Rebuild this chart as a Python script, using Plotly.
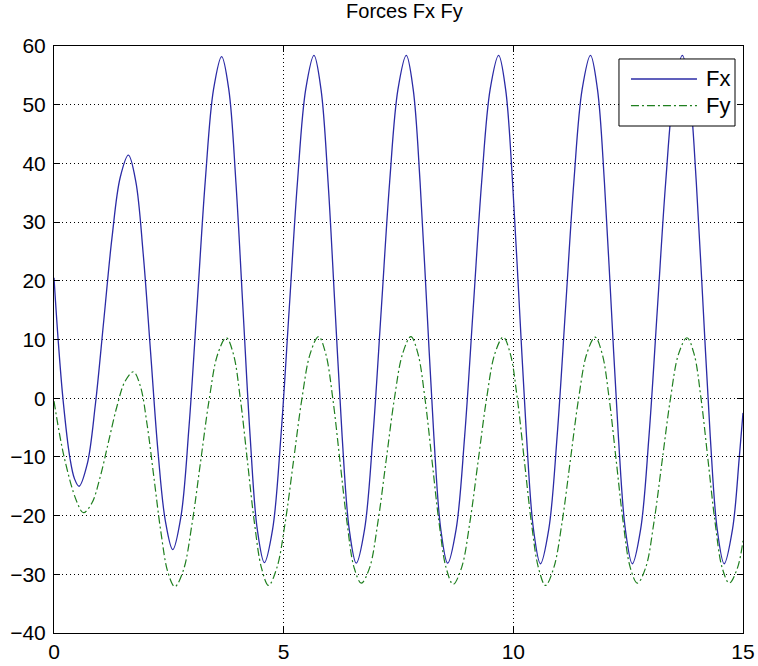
import plotly.graph_objects as go

# ---- data (time, force) ----
fx_t = [0, 0.09, 0.2, 0.345, 0.445, 0.545,
        0.724, 0.903, 1.083, 1.262, 1.441, 1.62,
        1.781, 1.942, 2.103, 2.263, 2.424, 2.585,
        2.763, 2.94, 3.118, 3.295, 3.473, 3.65,
        3.805, 3.96, 4.115, 4.27, 4.425, 4.58,
        4.76, 4.94, 5.12, 5.30, 5.48, 5.66,
        5.813, 5.967, 6.12, 6.273, 6.427, 6.58,
        6.762, 6.943, 7.125, 7.307, 7.488, 7.67,
        7.82, 7.97, 8.12, 8.27, 8.42, 8.57,
        8.755, 8.94, 9.125, 9.31, 9.495, 9.68,
        9.832, 9.983, 10.135, 10.287, 10.438, 10.59,
        10.772, 10.953, 11.135, 11.317, 11.498, 11.68,
        11.832, 11.983, 12.135, 12.287, 12.438, 12.59,
        12.772, 12.953, 13.135, 13.317, 13.498, 13.68,
        13.832, 13.983, 14.135, 14.287, 14.438, 14.59,
        14.772, 14.92, 15.0]
fx_val = [20.5, 10, -0.5, -10.1, -13.7, -15.0,
          -11.2, -0.9, 13.2, 27.3, 37.6, 41.4,
          36.9, 24.6, 7.8, -9.0, -20.9, -25.8,
          -20.2, -4.8, 16.2, 37.2, 52.6, 58.2,
          52.6, 36.8, 15.1, -6.5, -22.3, -28.0,
          -22.3, -6.5, 15.1, 36.8, 52.6, 58.4,
          52.6, 36.8, 15.1, -6.5, -22.3, -28.1,
          -22.3, -6.5, 15.1, 36.8, 52.6, 58.4,
          52.6, 36.8, 15.1, -6.5, -22.3, -28.1,
          -22.3, -6.5, 15.1, 36.8, 52.6, 58.4,
          52.6, 36.8, 15.1, -6.5, -22.3, -28.2,
          -22.3, -6.5, 15.1, 36.8, 52.6, 58.4,
          52.6, 36.8, 15.1, -6.5, -22.3, -28.2,
          -22.3, -6.5, 15.1, 36.8, 52.6, 58.4,
          52.6, 36.8, 15.1, -6.5, -22.3, -28.2,
          -22.3, -10.0, -2.5]

fy_t = [0, 0.22, 0.49, 0.64,
        0.822, 1.003, 1.185, 1.367, 1.548, 1.73,
        1.88, 2.03, 2.18, 2.33, 2.48, 2.63,
        2.817, 3.003, 3.19, 3.377, 3.563, 3.75,
        3.903, 4.057, 4.21, 4.363, 4.517, 4.67,
        4.852, 5.033, 5.215, 5.397, 5.578, 5.76,
        5.915, 6.07, 6.225, 6.38, 6.535, 6.69,
        6.87, 7.05, 7.23, 7.41, 7.59, 7.77,
        7.923, 8.077, 8.23, 8.383, 8.537, 8.69,
        8.872, 9.053, 9.235, 9.417, 9.598, 9.78,
        9.933, 10.087, 10.24, 10.393, 10.547, 10.70,
        10.88, 11.06, 11.24, 11.42, 11.60, 11.78,
        11.933, 12.087, 12.24, 12.393, 12.547, 12.70,
        12.88, 13.06, 13.24, 13.42, 13.60, 13.78,
        13.933, 14.087, 14.24, 14.393, 14.547, 14.70,
        14.88, 15.0]
fy_val = [-0.5, -10, -17.5, -19.5,
          -17.9, -13.5, -7.5, -1.5, 2.9, 4.5,
          2.05, -4.65, -13.8, -22.95, -29.65, -32.1,
          -29.3, -21.5, -10.9, -0.3, 7.5, 10.3,
          7.6, -0.1, -10.65, -21.2, -28.9, -31.9,
          -28.9, -21.2, -10.65, -0.1, 7.6, 10.5,
          7.6, -0.1, -10.65, -21.2, -28.9, -31.5,
          -28.9, -21.2, -10.65, -0.1, 7.6, 10.5,
          7.6, -0.1, -10.65, -21.2, -28.9, -31.7,
          -28.9, -21.2, -10.65, -0.1, 7.6, 10.4,
          7.6, -0.1, -10.65, -21.2, -28.9, -31.9,
          -28.9, -21.2, -10.65, -0.1, 7.6, 10.4,
          7.6, -0.1, -10.65, -21.2, -28.9, -31.5,
          -28.9, -21.2, -10.65, -0.1, 7.6, 10.3,
          7.6, -0.1, -10.65, -21.2, -28.9, -31.5,
          -28.9, -24.3]

x_ticks = [0, 5, 10, 15]
y_ticks = [-40, -30, -20, -10, 0, 10, 20, 30, 40, 50, 60]
series_names = ["Fx", "Fy"]
title_text = "Forces Fx Fy"

FX_COLOR = "#2b2ba6"
FY_COLOR = "#1f7f1f"
FY_DASH = "8px,3px,2px,3px"
FONT = "Liberation Sans, Arial, sans-serif"

fig = go.Figure()
fig.add_trace(go.Scatter(x=fx_t, y=fx_val, mode="lines", name=series_names[0],
                         line=dict(color=FX_COLOR, width=1.3, shape="spline", smoothing=1.0),
                         showlegend=False))
fig.add_trace(go.Scatter(x=fy_t, y=fy_val, mode="lines", name=series_names[1],
                         line=dict(color=FY_COLOR, width=1.2, shape="spline", smoothing=1.0,
                                   dash=FY_DASH),
                         showlegend=False))

axis_common = dict(showline=True, linecolor="black", linewidth=1, mirror="ticks",
                   ticks="inside", ticklen=6, tickcolor="black", tickwidth=1,
                   showgrid=True, gridcolor="black", gridwidth=1, griddash="1px,3px",
                   zeroline=False, automargin=False,
                   tickfont=dict(size=21, color="black", family=FONT))

fig.update_xaxes(range=[0, 15], tickvals=x_ticks, ticklabelstandoff=0, **axis_common)
fig.update_yaxes(range=[-40, 60], tickvals=y_ticks, ticklabelstandoff=3, **axis_common)

# legend box drawn in paper coordinates (MATLAB style, opaque)
lx0, lx1, ly0, ly1 = 0.820, 0.9884, 0.8637, 0.9779
shapes = [dict(type="rect", xref="paper", yref="paper", x0=lx0, x1=lx1, y0=ly0, y1=ly1,
               fillcolor="white", line=dict(color="black", width=1), layer="above")]
rows = [0.9438, 0.8983]
dashes = ["solid", FY_DASH]
colors = [FX_COLOR, FY_COLOR]
annotations = []
for name, ry, dsh, col in zip(series_names, rows, dashes, colors):
    shapes.append(dict(type="line", xref="paper", yref="paper", x0=0.8374, x1=0.9332,
                       y0=ry, y1=ry, line=dict(color=col, width=1.3, dash=dsh), layer="above"))
    annotations.append(dict(xref="paper", yref="paper", x=0.9440, y=ry, text=name,
                            showarrow=False, xanchor="left", yanchor="middle",
                            font=dict(size=22, color="black", family=FONT)))

fig.update_layout(
    width=758, height=666,
    margin=dict(l=54, r=15, t=46, b=33, pad=0),
    paper_bgcolor="white", plot_bgcolor="white",
    title=dict(text=title_text, x=0.5335, xanchor="center", y=0.984, yref="container",
               yanchor="middle", font=dict(size=20, color="black", family=FONT)),
    shapes=shapes, annotations=annotations, showlegend=False,
)

fig.write_html("out.html")
